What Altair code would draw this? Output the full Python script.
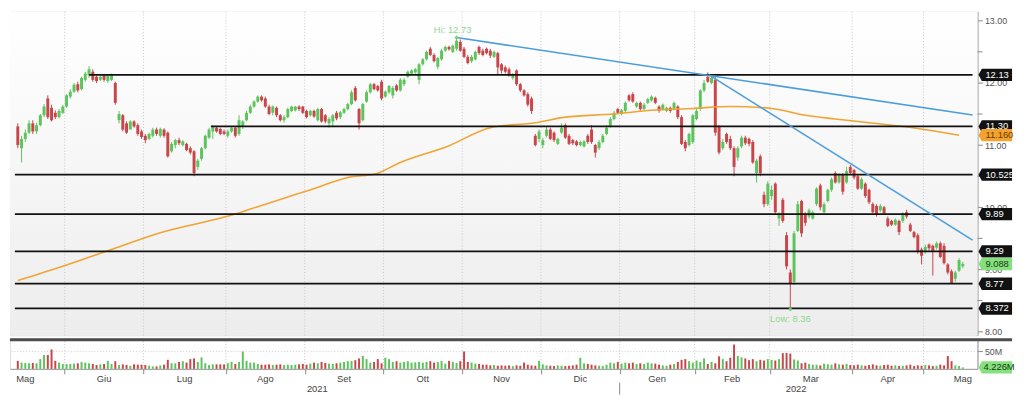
import altair as alt
import pandas as pd

FONT = "Liberation Sans"
GREEN = "#5cc45c"
RED = "#c8464a"

# ---------------- candle data ----------------
opens = [
    11.30, 10.95, 11.10, 11.20, 11.35, 11.22, 11.32, 11.48, 11.75, 11.60,
    11.52, 11.45, 11.52, 11.62, 11.78, 11.86, 11.98, 11.90, 12.05, 12.12,
    12.18, 12.10, 12.05, 12.12, 12.03, 12.05, 12.00, 11.40, 11.48, 11.35,
    11.25, 11.38, 11.32, 11.22, 11.15, 11.10, 11.15, 11.25, 11.15, 11.25,
    11.20, 10.90, 11.00, 11.08, 11.00, 11.02, 10.95, 10.90, 10.65, 10.78,
    10.95, 11.12, 11.22, 11.28, 11.26, 11.22, 11.15, 11.22, 11.28, 11.18,
    11.30, 11.40, 11.52, 11.62, 11.70, 11.78, 11.75, 11.62, 11.52, 11.60,
    11.48, 11.40, 11.45, 11.55, 11.56, 11.62, 11.62, 11.55, 11.48, 11.55,
    11.40, 11.58, 11.48, 11.35, 11.38, 11.52, 11.45, 11.52, 11.58, 11.66,
    11.92, 11.58, 11.40, 11.70, 11.85, 11.98, 11.95, 12.02, 11.78, 11.85,
    11.80, 11.96, 11.88, 11.98, 12.10, 12.15, 12.17, 12.05, 12.30, 12.38,
    12.55, 12.45, 12.26, 12.38, 12.52, 12.58, 12.50, 12.55, 12.66, 12.55,
    12.42, 12.35, 12.38, 12.58, 12.52, 12.55, 12.52, 12.42, 12.48, 12.30,
    12.25, 12.22, 12.08, 12.20, 11.98, 11.88, 11.82, 11.75, 11.15, 11.10,
    11.00, 11.15, 11.25, 11.20, 11.02, 11.20, 11.32, 11.15, 11.08, 11.06,
    11.00, 10.98, 11.15, 11.25, 11.00, 10.95, 11.05, 11.18, 11.30, 11.42,
    11.58, 11.50, 11.55, 11.80, 11.82, 11.62, 11.68, 11.58, 11.68, 11.72,
    11.76, 11.62, 11.58, 11.55, 11.60, 11.58, 11.62, 11.45, 11.05, 11.00,
    11.05, 11.42, 11.58, 11.88, 12.10, 12.00, 12.05, 11.30, 10.95, 11.18,
    11.10, 10.95, 10.80, 10.98, 11.12, 11.10, 11.05, 10.55, 10.82, 10.20,
    10.05, 10.18, 10.38, 9.82, 10.12, 9.55, 8.95, 8.80, 9.62, 10.10,
    9.88, 9.85, 9.82, 10.05, 10.35, 9.92, 10.10, 10.28, 10.55, 10.40,
    10.52, 10.40, 10.65, 10.60, 10.50, 10.30, 10.38, 10.28, 10.05, 10.02,
    9.95, 10.00, 9.82, 9.78, 9.72, 9.78, 9.78, 9.92, 9.72, 9.60,
    9.55, 9.32, 9.28, 9.40, 9.38, 9.35, 9.42, 9.38, 9.08, 8.97,
    8.85, 8.98, 9.05,
]
highs = [
    11.35, 11.15, 11.25, 11.40, 11.40, 11.36, 11.50, 11.66, 11.80, 11.65,
    11.56, 11.58, 11.65, 11.82, 11.90, 12.00, 12.02, 12.10, 12.18, 12.27,
    12.22, 12.12, 12.13, 12.14, 12.14, 12.15, 12.02, 11.55, 11.50, 11.38,
    11.40, 11.40, 11.35, 11.25, 11.18, 11.20, 11.28, 11.28, 11.28, 11.27,
    11.22, 11.05, 11.10, 11.12, 11.08, 11.04, 10.98, 10.92, 10.78, 10.97,
    11.17, 11.28, 11.32, 11.30, 11.28, 11.25, 11.25, 11.30, 11.30, 11.48,
    11.40, 11.55, 11.65, 11.72, 11.80, 11.80, 11.78, 11.65, 11.64, 11.62,
    11.50, 11.48, 11.60, 11.63, 11.63, 11.64, 11.63, 11.57, 11.57, 11.57,
    11.60, 11.60, 11.50, 11.45, 11.50, 11.55, 11.55, 11.60, 11.68, 11.88,
    11.95, 11.60, 11.68, 11.88, 12.00, 12.00, 11.97, 12.05, 11.88, 11.97,
    11.95, 11.98, 12.08, 12.08, 12.20, 12.22, 12.24, 12.32, 12.40, 12.52,
    12.58, 12.48, 12.42, 12.55, 12.60, 12.60, 12.62, 12.73, 12.70, 12.58,
    12.45, 12.45, 12.52, 12.60, 12.55, 12.57, 12.55, 12.52, 12.50, 12.32,
    12.28, 12.25, 12.16, 12.22, 12.00, 11.90, 11.85, 11.78, 11.18, 11.25,
    11.12, 11.30, 11.28, 11.22, 11.12, 11.35, 11.35, 11.18, 11.10, 11.08,
    11.07, 11.08, 11.18, 11.32, 11.02, 11.08, 11.18, 11.32, 11.45, 11.55,
    11.60, 11.58, 11.70, 11.82, 11.85, 11.70, 11.70, 11.68, 11.76, 11.80,
    11.78, 11.64, 11.67, 11.62, 11.62, 11.70, 11.64, 11.48, 11.08, 11.20,
    11.50, 11.58, 11.90, 12.05, 12.17, 12.12, 12.10, 11.32, 11.10, 11.20,
    11.15, 10.98, 10.98, 11.15, 11.15, 11.12, 11.08, 10.78, 10.85, 10.25,
    10.42, 10.35, 10.40, 9.92, 10.15, 9.60, 9.00, 9.62, 10.10, 10.12,
    9.92, 9.98, 9.95, 10.32, 10.38, 10.08, 10.30, 10.48, 10.58, 10.55,
    10.55, 10.65, 10.68, 10.62, 10.52, 10.48, 10.40, 10.30, 10.08, 10.05,
    10.05, 10.02, 9.85, 9.80, 9.82, 9.80, 9.92, 9.96, 9.75, 9.62,
    9.58, 9.35, 9.40, 9.42, 9.40, 9.45, 9.45, 9.42, 9.10, 9.00,
    8.98, 9.18, 9.12,
]
lows = [
    10.95, 10.72, 11.05, 11.18, 11.18, 11.18, 11.30, 11.45, 11.42, 11.38,
    11.42, 11.43, 11.50, 11.60, 11.75, 11.84, 11.85, 11.88, 12.02, 12.08,
    12.02, 12.00, 12.03, 12.02, 12.00, 12.03, 11.65, 11.35, 11.22, 11.18,
    11.26, 11.28, 11.15, 11.10, 11.03, 11.08, 11.12, 11.15, 11.12, 11.12,
    10.80, 10.88, 10.95, 11.00, 10.98, 10.90, 10.85, 10.50, 10.60, 10.75,
    10.93, 11.10, 11.10, 11.20, 11.16, 11.16, 11.12, 11.20, 11.12, 11.15,
    11.26, 11.38, 11.50, 11.60, 11.68, 11.70, 11.60, 11.48, 11.48, 11.45,
    11.38, 11.36, 11.43, 11.53, 11.54, 11.55, 11.50, 11.43, 11.46, 11.44,
    11.38, 11.36, 11.35, 11.28, 11.30, 11.40, 11.42, 11.50, 11.56, 11.64,
    11.70, 11.25, 11.38, 11.68, 11.83, 11.88, 11.86, 11.72, 11.76, 11.82,
    11.75, 11.86, 11.86, 11.95, 12.08, 12.13, 12.15, 11.98, 12.28, 12.36,
    12.43, 12.33, 12.22, 12.36, 12.50, 12.52, 12.48, 12.52, 12.50, 12.40,
    12.30, 12.32, 12.36, 12.45, 12.43, 12.46, 12.40, 12.40, 12.13, 12.15,
    12.15, 12.10, 12.05, 11.95, 11.85, 11.78, 11.62, 11.50, 10.98, 11.05,
    10.95, 11.12, 11.08, 11.05, 11.00, 11.18, 11.10, 11.00, 11.00, 10.98,
    10.98, 10.96, 11.02, 11.02, 10.80, 10.92, 11.03, 11.16, 11.28, 11.40,
    11.50, 11.48, 11.52, 11.70, 11.68, 11.60, 11.55, 11.56, 11.66, 11.70,
    11.66, 11.52, 11.56, 11.53, 11.52, 11.56, 11.42, 11.00, 10.90, 10.98,
    11.02, 11.40, 11.55, 11.85, 12.00, 11.98, 11.15, 10.85, 10.92, 11.02,
    10.92, 10.50, 10.75, 10.95, 11.00, 10.98, 10.70, 10.40, 10.50, 10.00,
    10.02, 10.12, 9.88, 9.70, 9.75, 9.00, 8.36, 8.75, 9.60, 9.52,
    9.70, 9.82, 9.80, 10.02, 9.95, 9.90, 10.08, 10.25, 10.38, 10.38,
    10.20, 10.38, 10.52, 10.45, 10.28, 10.28, 10.15, 10.05, 9.90, 9.85,
    9.92, 9.88, 9.68, 9.70, 9.70, 9.55, 9.75, 9.82, 9.60, 9.50,
    9.25, 9.08, 9.25, 9.30, 8.90, 9.32, 9.18, 9.08, 8.92, 8.77,
    8.80, 8.96, 9.02,
]
closes = [
    11.00, 11.10, 11.20, 11.35, 11.22, 11.32, 11.48, 11.62, 11.45, 11.40,
    11.45, 11.55, 11.62, 11.80, 11.86, 11.97, 11.88, 12.08, 12.15, 12.22,
    12.05, 12.03, 12.10, 12.05, 12.12, 12.13, 11.68, 11.50, 11.25, 11.20,
    11.38, 11.30, 11.18, 11.13, 11.08, 11.18, 11.25, 11.18, 11.26, 11.15,
    10.82, 11.02, 11.08, 11.03, 11.06, 10.92, 10.88, 10.55, 10.75, 10.95,
    11.15, 11.25, 11.30, 11.22, 11.18, 11.18, 11.22, 11.28, 11.15, 11.40,
    11.38, 11.52, 11.62, 11.70, 11.78, 11.72, 11.62, 11.50, 11.62, 11.48,
    11.40, 11.45, 11.58, 11.62, 11.62, 11.58, 11.52, 11.45, 11.55, 11.46,
    11.58, 11.38, 11.38, 11.42, 11.48, 11.43, 11.53, 11.58, 11.66, 11.85,
    11.72, 11.35, 11.66, 11.85, 11.98, 11.90, 11.88, 11.75, 11.86, 11.95,
    11.92, 11.88, 12.05, 12.05, 12.18, 12.20, 12.22, 12.30, 12.38, 12.50,
    12.45, 12.35, 12.40, 12.52, 12.58, 12.54, 12.60, 12.68, 12.52, 12.42,
    12.32, 12.42, 12.50, 12.48, 12.45, 12.48, 12.44, 12.50, 12.25, 12.20,
    12.18, 12.12, 12.14, 11.98, 11.88, 11.80, 11.65, 11.55, 11.00, 11.22,
    11.08, 11.25, 11.10, 11.08, 11.10, 11.28, 11.12, 11.02, 11.03, 11.00,
    11.05, 11.06, 11.05, 11.05, 10.88, 11.05, 11.15, 11.28, 11.42, 11.52,
    11.52, 11.56, 11.68, 11.72, 11.70, 11.68, 11.58, 11.65, 11.74, 11.78,
    11.68, 11.55, 11.65, 11.60, 11.55, 11.68, 11.45, 11.02, 10.95, 11.18,
    11.48, 11.55, 11.88, 12.00, 12.02, 12.08, 11.20, 10.88, 11.05, 11.05,
    10.95, 10.65, 10.95, 11.12, 11.03, 11.02, 10.72, 10.75, 10.55, 10.05,
    10.38, 10.28, 9.92, 9.90, 9.78, 9.05, 8.78, 9.58, 10.05, 9.58,
    9.75, 9.95, 9.92, 10.30, 10.00, 10.05, 10.28, 10.45, 10.40, 10.52,
    10.25, 10.58, 10.55, 10.48, 10.30, 10.45, 10.18, 10.08, 9.92, 9.88,
    10.02, 9.90, 9.70, 9.72, 9.80, 9.60, 9.90, 9.85, 9.62, 9.52,
    9.28, 9.22, 9.36, 9.34, 9.28, 9.42, 9.20, 9.10, 8.95, 8.78,
    8.95, 9.15, 9.088,
]
volumes_m = [
    23, 18, 17, 16, 17, 16, 28, 40, 40, 56,
    23, 18, 14, 14, 14, 15, 16, 20, 18, 16,
    14, 11, 13, 14, 23, 14, 22, 11, 13, 11,
    9, 13, 12, 12, 11, 9, 7, 7, 10, 12,
    26, 16, 16, 20, 22, 18, 28, 30, 20, 33,
    16, 11, 13, 13, 13, 13, 16, 20, 14, 20,
    50, 23, 18, 18, 14, 12, 12, 13, 11, 12,
    13, 11, 12, 11, 12, 13, 14, 12, 15, 18,
    16, 20, 17, 15, 14, 16, 18, 20, 22, 23,
    25, 30, 37, 28, 18, 20, 28, 16, 32, 28,
    20, 22, 18, 20, 22, 18, 19, 20, 18, 20,
    22, 18, 20, 23, 15, 23, 20, 17, 22, 50,
    20, 18, 15, 14, 12, 12, 10, 11, 9, 10,
    9, 10, 8, 10, 9, 18, 12, 10, 9, 23,
    13, 10, 9, 8, 10, 9, 8, 9, 10, 12,
    32, 16, 14, 12, 10, 9, 8, 12, 18, 16,
    20, 15, 18, 16, 18, 14, 16, 14, 18, 16,
    15, 12, 10, 9, 12, 14, 20, 26, 28, 22,
    18, 24, 20, 30, 14, 20, 16, 36, 28, 22,
    32, 70, 37, 33, 30, 25, 28, 22, 26, 24,
    28, 26, 24, 28, 45, 46, 44, 27, 24, 16,
    18, 14, 12, 12, 10, 15, 13, 12, 16, 13,
    12, 14, 11, 10, 12, 10, 9, 11, 13, 10,
    9, 11, 12, 9, 10, 8, 9, 10, 12, 8,
    10, 9, 11, 10, 8, 9, 12, 10, 37, 22,
    10, 8, 4.226,
]

# 200-day moving average, sampled points (candle index, value)
ma_idx = [0, 12, 24, 38, 58, 64, 77, 89, 95, 102, 115, 126, 138, 146, 159,
          169, 180, 190, 201, 210, 218, 227, 236, 244, 251]
ma_val = [8.82, 9.05, 9.30, 9.59, 9.89, 10.01, 10.26, 10.49, 10.53, 10.72,
          10.99, 11.28, 11.36, 11.45, 11.50, 11.56, 11.59, 11.62, 11.59, 11.48,
          11.42, 11.36, 11.30, 11.23, 11.16]

XMIN, XMAX = -0.77, 254.6

# horizontal support / resistance levels
levels = [12.13, 11.30, 10.525, 9.89, 9.29, 8.77, 8.372]
level_labels = ["12.13", "11.30", "10.525", "9.89", "9.29", "8.77", "8.372"]
level_start = [19, 51.5, XMIN, XMIN, XMIN, XMIN, XMIN]

# trend lines (start index, start price, end index, end price)
trend_x1 = [117, 184.3]
trend_y1 = [12.73, 12.13]
trend_x2 = [XMAX, XMAX]
trend_y2 = [11.485, 9.47]

# month axis
month_names = ["Mag", "Giu", "Lug", "Ago", "Set", "Ott", "Nov", "Dic",
               "Gen", "Feb", "Mar", "Apr", "Mag"]
month_first = [13, 34, 56, 77, 98, 119, 140, 161, 181, 201, 223, 242]
years = ["2021", "2022"]
jan_first = 161

hi_idx, hi_val = 117, 12.73
lo_idx, lo_val = 206, 8.36
last_ma = 11.16
last_close = 9.088
last_vol = 4.226

# ---------------- frames ----------------
n = len(closes)
df = pd.DataFrame({"i": list(range(n)), "open": opens, "high": highs,
                   "low": lows, "close": closes, "vol": volumes_m})
df["dir"] = ["up" if c >= o else "down" for o, c in zip(opens, closes)]

bounds = [k - 0.5 for k in month_first]
edges = [bounds[0] - 21] + bounds + [bounds[-1] + 21]
label_pos = [(edges[j] + edges[j + 1]) / 2 for j in range(len(month_names))]
df_months = pd.DataFrame({"pos": label_pos, "name": month_names})
df_bounds = pd.DataFrame({"b": bounds})
df_years = pd.DataFrame({"pos": [(XMIN + jan_first - 0.5) / 2, (jan_first - 0.5 + XMAX) / 2],
                         "name": years})
df_jan = pd.DataFrame({"b": [jan_first - 0.5]})
df_ma = pd.DataFrame({"i": ma_idx, "v": ma_val})
df_lv = pd.DataFrame({"s": level_start, "e": [XMAX] * len(levels), "v": levels})
df_tr = pd.DataFrame({"x1": trend_x1, "y1": trend_y1, "x2": trend_x2, "y2": trend_y2})
tag_rows = [(v, l, "#111111", "#ffffff") for v, l in zip(levels, level_labels)]
tag_rows.append((last_ma, "11.160", "#f3a22f", "#6b3a00"))
tag_rows.append((last_close, "9.088", "#86e07e", "#123d12"))
df_tags = pd.DataFrame(tag_rows, columns=["v", "label", "bg", "fg"])
df_one = pd.DataFrame({"a": [0]})
df_half = pd.DataFrame({"v": [8.5, 9.5, 10.5, 11.5, 12.5]})

W, H1, H2 = 980, 328, 31
TAGW = 34
TAG_PATH = "M-1,0L-0.8,-0.37L1,-0.37L1,0.37L-0.8,0.37Z"

xs = alt.Scale(domain=[XMIN, XMAX], nice=False, zero=False)
ys = alt.Scale(domain=[7.94, 13.15], nice=False, zero=False)
vs = alt.Scale(domain=[0, 88], nice=False, zero=False)
col = alt.Scale(domain=["up", "down"], range=[GREEN, RED])

yax = alt.Axis(orient="right", values=[8, 9, 10, 11, 12, 13], format=".2f",
               labelFontSize=9, labelColor="#555555", labelFont=FONT, labelPadding=2,
               tickSize=5, tickColor="#888888", domainColor="#999999",
               grid=True, gridColor="#cccccc", gridDash=[1, 2], title=None)


def X(f):
    return alt.X(f"{f}:Q", scale=xs, axis=None)


def Y(f):
    return alt.Y(f"{f}:Q", scale=ys, axis=yax)


grad = alt.Gradient(gradient="linear",
                    stops=[alt.GradientStop(color="#ffffff", offset=0),
                           alt.GradientStop(color="#ededed", offset=1)],
                    x1=0, x2=0, y1=0, y2=1)

bg = alt.Chart(df_one).mark_rect(color=grad).encode(
    x=alt.value(0), x2=alt.value(W), y=alt.value(0), y2=alt.value(H1))
vgrid = alt.Chart(df_bounds).mark_rule(color="#c8c8c8", strokeDash=[1, 2]).encode(x=X("b"))
wick = alt.Chart(df).mark_rule(strokeWidth=1).encode(
    x=X("i"), y=Y("low"), y2="high",
    color=alt.Color("dir:N", scale=col, legend=None))
body = alt.Chart(df).mark_bar(size=3).encode(
    x=X("i"), y=Y("open"), y2="close",
    color=alt.Color("dir:N", scale=col, legend=None))
ma = alt.Chart(df_ma).mark_line(color="#f0a434", strokeWidth=1.6, interpolate="monotone").encode(
    x=X("i"), y=Y("v"))
lv = alt.Chart(df_lv).mark_rule(color="#111111", strokeWidth=1.8, clip=True).encode(
    x=X("s"), x2="e", y=Y("v"))
tr = alt.Chart(df_tr).mark_rule(color="#4b9ddb", strokeWidth=1.6, clip=True).encode(
    x=X("x1"), x2="x2", y=Y("y1"), y2="y2")
df_hi = pd.DataFrame({"i": [hi_idx], "v": [hi_val], "t": ["Hi: %.2f" % hi_val]})
df_lo = pd.DataFrame({"i": [lo_idx], "v": [lo_val], "t": ["Low: %.2f" % lo_val]})
hi_pt = alt.Chart(pd.concat([df_hi, df_lo])).mark_point(
    shape="diamond", filled=True, size=18, color="#6fcf6f", opacity=1).encode(x=X("i"), y=Y("v"))
hi_tx = alt.Chart(df_hi).mark_text(fontSize=9.5, font=FONT, color="#8fd88f", dy=-8, dx=-4).encode(
    x=X("i"), y=Y("v"), text="t:N")
lo_tx = alt.Chart(df_lo).mark_text(fontSize=9.5, font=FONT, color="#8fd88f", dy=10).encode(
    x=X("i"), y=Y("v"), text="t:N")
half_ticks = alt.Chart(df_half).mark_rule(color="#888888").encode(
    x=alt.value(W), x2=alt.value(W + 5), y=Y("v"))
tag_bg = alt.Chart(df_tags).mark_point(shape=TAG_PATH, size=TAGW * TAGW, filled=True,
                                       opacity=1, strokeWidth=0).encode(
    x=alt.value(W + 1 + TAGW / 2), y=Y("v"), color=alt.Color("bg:N", scale=None))
tag_tx = alt.Chart(df_tags).mark_text(align="left", baseline="middle", fontSize=9.5,
                                      font=FONT).encode(
    x=alt.value(W + 8), y=Y("v"), text="label:N", color=alt.Color("fg:N", scale=None))

price = alt.layer(bg, vgrid, wick, body, ma, lv, tr, hi_pt, hi_tx, lo_tx,
                  half_ticks, tag_bg, tag_tx).properties(width=W, height=H1)

# ---------------- volume panel ----------------
xvax = alt.Axis(values=bounds, labels=False, ticks=True, tickSize=5, tickColor="#888888",
                domainColor="#999999", grid=False, title=None)
yvax = alt.Axis(orient="right", values=[50], labelExpr="datum.value + 'M'",
                labelFontSize=9, labelColor="#555555", labelFont=FONT, labelPadding=2,
                tickSize=5, tickColor="#888888", domainColor="#999999",
                grid=True, gridColor="#cccccc", gridDash=[1, 2], title=None)


def XV(f):
    return alt.X(f"{f}:Q", scale=xs, axis=xvax)


def YV(f):
    return alt.Y(f"{f}:Q", scale=vs, axis=yvax)


vgrid2 = alt.Chart(df_bounds).mark_rule(color="#c8c8c8", strokeDash=[1, 2]).encode(x=XV("b"))
vbars = alt.Chart(df).mark_bar(size=2).encode(
    x=XV("i"), y=YV("vol"), color=alt.Color("dir:N", scale=col, legend=None))
sep = alt.Chart(df_one).mark_rule(color="#4d4d4d", strokeWidth=3).encode(
    x=alt.value(0), x2=alt.value(W + TAGW + 1), y=alt.value(1.5))
mlab = alt.Chart(df_months).mark_text(fontSize=9.5, font=FONT, color="#444444",
                                      baseline="middle").encode(
    x=XV("pos"), y=alt.value(H2 + 10), text="name:N")
ylab = alt.Chart(df_years).mark_text(fontSize=9.5, font=FONT, color="#444444",
                                     baseline="middle").encode(
    x=XV("pos"), y=alt.value(H2 + 20), text="name:N")
ysep = alt.Chart(df_jan).mark_rule(color="#888888").encode(
    x=XV("b"), y=alt.value(H2 + 14), y2=alt.value(H2 + 26))
df_vtag = pd.DataFrame({"v": [last_vol], "label": ["%.3fM" % last_vol]})
vtag_bg = alt.Chart(df_vtag).mark_point(shape=TAG_PATH, size=TAGW * TAGW, filled=True,
                                        opacity=1, strokeWidth=0, color="#86e07e").encode(
    x=alt.value(W + 1 + TAGW / 2), y=YV("v"))
vtag_tx = alt.Chart(df_vtag).mark_text(align="left", baseline="middle", fontSize=9.5,
                                       font=FONT, color="#123d12").encode(
    x=alt.value(W + 6), y=YV("v"), text="label:N")

volume = alt.layer(vgrid2, vbars, sep, mlab, ylab, ysep, vtag_bg, vtag_tx).properties(
    width=W, height=H2)

chart = alt.vconcat(price, volume, spacing=0).properties(
    padding={"left": 0, "top": 0, "right": 0, "bottom": 0}
).configure_view(strokeWidth=0).configure(background="white")

chart.save("out.html", embed_options={"renderer": "svg", "actions": False})
